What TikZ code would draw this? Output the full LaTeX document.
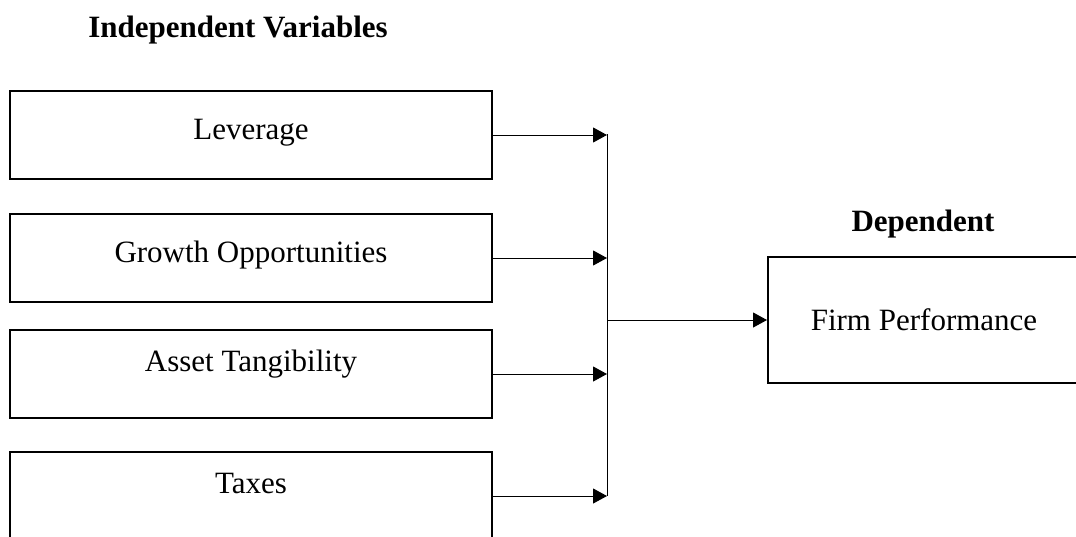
\documentclass[tikz,border=0pt]{standalone}
\usepackage{fontspec}
\setmainfont{Liberation Serif}
\usetikzlibrary{arrows.meta}

\tikzset{
  varbox/.style={draw, line width=2pt, minimum width=482pt, minimum height=88pt,
    inner sep=0pt, text height=21pt, font=\fontsize{31}{37}\selectfont},
  heading/.style={anchor=base, font=\fontsize{31}{37}\selectfont\bfseries},
  link/.style={line width=1pt, -{Triangle[length=14pt, width=15pt]}}
}

\begin{document}
\begin{tikzpicture}[x=1pt, y=-1pt]
  \useasboundingbox (0,0) rectangle (1076,536);

  \node[heading] (indep) at (238,37) {Independent Variables};
  \node[heading] (dep) at (923,231) {Dependent};

  \node[varbox, text depth=13pt] (lev) at (251,135) {Leverage};
  \node[varbox, text depth=12pt] (grow) at (251,258) {Growth Opportunities};
  \node[varbox, text depth=27pt] (asset) at (251,374) {Asset Tangibility};
  \node[varbox, text depth=27pt] (tax) at (251,496) {Taxes};

  \node[varbox, minimum width=312pt, minimum height=126pt, text depth=1pt] (firm) at (924,320) {Firm Performance};

  \coordinate (bustop) at (607,134); % collecting line
  \coordinate (busbot) at (607,496);
  \coordinate (busout) at (607,320);

  \draw[line width=1pt] (bustop) -- (busbot);
  \draw[link] (lev.east) -- (lev.east -| bustop);
  \draw[link] (grow.east) -- (grow.east -| bustop);
  \draw[link] (asset.east) -- (asset.east -| bustop);
  \draw[link] (tax.east) -- (tax.east -| bustop);
  \draw[link] (busout) -- (firm.west);
\end{tikzpicture}
\end{document}
